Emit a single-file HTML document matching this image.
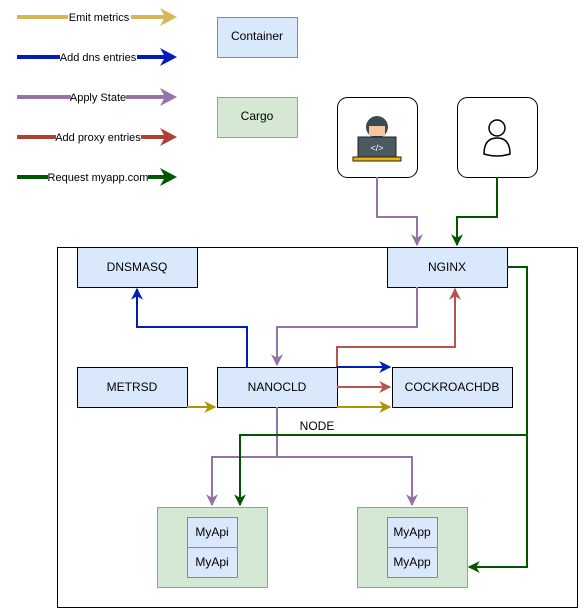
<!DOCTYPE html>
<html><head><style>body{margin:0;background:#fff}svg{display:block}text{font-family:"Liberation Sans",sans-serif;font-size:12px;fill:#000}</style></head><body>
<svg width="586" height="616" viewBox="0 0 586 616">
<defs>
<marker id="a" viewBox="0 0 10 10" refX="9" refY="5" markerWidth="12" markerHeight="12" markerUnits="userSpaceOnUse" orient="auto"><path d="M0,0 L10,5 L0,10 L3,5z" fill="context-stroke"/></marker>
</defs>
<style>.l{fill:none;stroke-width:2}</style>
<g stroke-width="4" fill="none">
<path d="M17 17H165" stroke="#d6b656"/><path d="M160 8L177 17L160 26L165 17z" fill="#d6b656"/>
<path d="M17 57H165" stroke="#001DBC"/><path d="M160 48L177 57L160 66L165 57z" fill="#001DBC"/>
<path d="M17 97H165" stroke="#9673a6"/><path d="M160 88L177 97L160 106L165 97z" fill="#9673a6"/>
<path d="M17 137H165" stroke="#ae4132"/><path d="M160 128L177 137L160 146L165 137z" fill="#ae4132"/>
<path d="M17 177H165" stroke="#005700"/><path d="M160 168L177 177L160 186L165 177z" fill="#005700"/>
</g>
<g>
<rect x="68" y="10" width="63" height="14" fill="#fff"/><text x="99" y="21" text-anchor="middle" style="font-size:11px">Emit metrics</text>
<rect x="60" y="50" width="77" height="14" fill="#fff"/><text x="98" y="61" text-anchor="middle" style="font-size:11px">Add dns entries</text>
<rect x="71" y="90" width="55" height="14" fill="#fff"/><text x="98" y="101" text-anchor="middle" style="font-size:11px">Apply State</text>
<rect x="56" y="130" width="85" height="14" fill="#fff"/><text x="98" y="141" text-anchor="middle" style="font-size:11px">Add proxy entries</text>
<rect x="48" y="170" width="100" height="14" fill="#fff"/><text x="98" y="181" text-anchor="middle" style="font-size:11px">Request myapp.com</text>
</g>
<rect x="217.5" y="17.5" width="80" height="40" fill="#dae8fc" stroke="#6c8ebf"/><text x="257" y="40" text-anchor="middle">Container</text>
<rect x="217.5" y="97.5" width="80" height="40" fill="#d5e8d4" stroke="#82b366"/><text x="257" y="120" text-anchor="middle">Cargo</text>
<rect x="337.5" y="97.5" width="80" height="80" rx="10" fill="#fff" stroke="#000"/>
<rect x="457.5" y="97.5" width="80" height="80" rx="10" fill="#fff" stroke="#000"/>
<circle cx="377" cy="127" r="11" fill="#3a4a50"/><rect x="369" y="126" width="16" height="10" fill="#f5c6a0"/>
<rect x="358" y="137" width="38" height="20" fill="#4a5a60" stroke="#222"/><rect x="353" y="157" width="48" height="4" fill="#f0b400" stroke="#222"/>
<text x="377" y="151" text-anchor="middle" style="font-size:9px;fill:#fff">&lt;/&gt;</text>
<circle cx="497" cy="128" r="8" fill="none" stroke="#000" stroke-width="1.5"/>
<path d="M484 154Q484 138 497 138Q510 138 510 154Q497 158 484 154z" fill="none" stroke="#000" stroke-width="1.5"/>
<rect x="57.5" y="247.5" width="520" height="360" fill="none" stroke="#000"/>
<g fill="#dae8fc" stroke="#000">
<rect x="77.5" y="247.5" width="120" height="40"/><rect x="387.5" y="247.5" width="120" height="40"/>
<rect x="77.5" y="367.5" width="110" height="40"/><rect x="217.5" y="367.5" width="120" height="40"/><rect x="392.5" y="367.5" width="120" height="40"/>
</g>
<text x="137" y="271" text-anchor="middle">DNSMASQ</text><text x="447" y="271" text-anchor="middle">NGINX</text>
<text x="132" y="391" text-anchor="middle">METRSD</text><text x="277" y="391" text-anchor="middle">NANOCLD</text><text x="452" y="391" text-anchor="middle">COCKROACHDB</text>
<text x="317" y="430" text-anchor="middle">NODE</text>
<rect x="157.5" y="507.5" width="110" height="80" fill="#d5e8d4" stroke="#82b366"/>
<rect x="357.5" y="507.5" width="110" height="80" fill="#d5e8d4" stroke="#82b366"/>
<g fill="#dae8fc" stroke="#6c8ebf"><rect x="187.5" y="517.5" width="50" height="30"/><rect x="187.5" y="547.5" width="50" height="30"/><rect x="387.5" y="517.5" width="50" height="30"/><rect x="387.5" y="547.5" width="50" height="30"/></g>
<text x="212" y="536" text-anchor="middle">MyApi</text><text x="212" y="566" text-anchor="middle">MyApi</text>
<text x="412" y="536" text-anchor="middle">MyApp</text><text x="412" y="566" text-anchor="middle">MyApp</text>
<path class="l" stroke="#9673a6" d="M377 177V217H417V245" marker-end="url(#a)"/>
<path class="l" stroke="#005700" d="M497 177V217H457V245" marker-end="url(#a)"/>
<path class="l" stroke="#001DBC" d="M247 367V327H137V289" marker-end="url(#a)"/>
<path class="l" stroke="#9673a6" d="M417 287V327H277V365" marker-end="url(#a)"/>
<path class="l" stroke="#b85450" d="M337 367V347H455V289" marker-end="url(#a)"/>
<path class="l" stroke="#001DBC" d="M337 367H390" marker-end="url(#a)"/>
<path class="l" stroke="#b85450" d="M337 387H390" marker-end="url(#a)"/>
<path class="l" stroke="#B09500" d="M337 407H390" marker-end="url(#a)"/>
<path class="l" stroke="#B09500" d="M187 407H215" marker-end="url(#a)"/>
<path class="l" stroke="#9673a6" d="M277 407V457H212V505" marker-end="url(#a)"/>
<path class="l" stroke="#9673a6" d="M277 457H412V505" marker-end="url(#a)"/>
<path class="l" stroke="#005700" d="M507 267H527V567H469" marker-end="url(#a)"/>
<path class="l" stroke="#005700" d="M527 435H240V505" marker-end="url(#a)"/>
</svg>
</body></html>
